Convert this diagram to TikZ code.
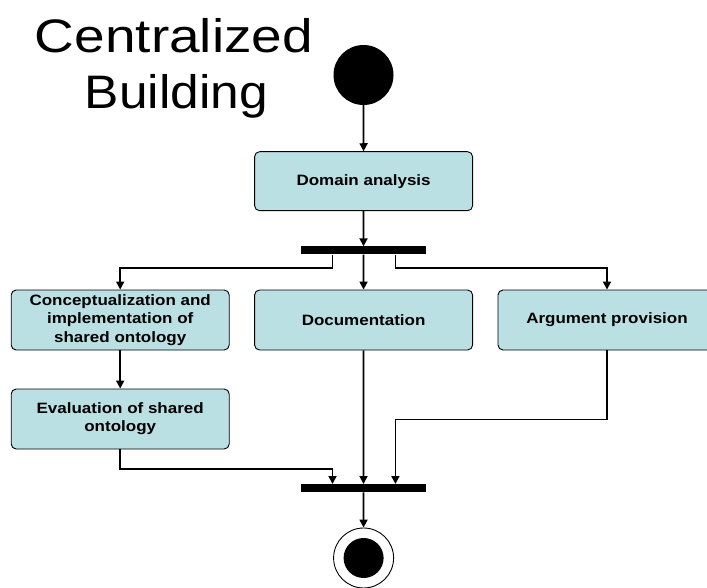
\documentclass[tikz,border=0pt]{standalone}
\usepackage{fontspec}
\setmainfont{Liberation Sans}
\usetikzlibrary{arrows.meta,calc}
\definecolor{boxfill}{RGB}{187,224,227}
\newcommand{\wide}[1]{\scalebox{1.133}[1]{#1}}
\begin{document}
\begin{tikzpicture}[x=1pt,y=-1pt,
  activity/.style={draw=black,line width=0.9pt,fill=boxfill,rounded corners=5pt,
    minimum width=218pt,minimum height=59pt,inner sep=0pt,
    font=\fontsize{15}{18.5}\selectfont\bfseries,align=center},
  bar/.style={fill=black,draw=none,minimum width=125pt,minimum height=8pt,inner sep=0pt},
  arr/.style={line width=1.8pt,-{Triangle[length=8pt,width=8pt]}},
]
\useasboundingbox (0,0) rectangle (707,588);
\begin{scope}
\clip (0,0) rectangle (707,588);
% title
\node[anchor=base,inner sep=0pt,font=\fontsize{47}{55.6}\selectfont] (t1) at (174,52.7) {\scalebox{1.17}[1]{Centralized}};
\node[anchor=base,inner sep=0pt,font=\fontsize{47}{55.6}\selectfont] (t2) at (176.5,108.3) {\scalebox{1.095}[1]{Building}};
% start and end
\node[circle,fill=black,minimum size=60pt,inner sep=0pt] (start) at (363.5,75) {};
\node[circle,draw=black,line width=0.9pt,fill=white,minimum size=60pt,inner sep=0pt] (end) at (363.6,558) {};
\node[circle,fill=black,minimum size=40pt,inner sep=0pt] (endin) at (end.center) {};
% activities
\node[activity] (dom) at (363.6,181.2) {\wide{Domain analysis}};
\node[activity,minimum height=60pt] (con) at (120.2,320) {\wide{\begin{tabular}{@{}c@{}}Conceptualization and\\implementation of\\shared ontology\end{tabular}}};
\node[activity,minimum height=60pt] (doc) at (363.6,320) {\wide{Documentation}};
\node[activity,minimum height=60pt] (arg) at (607,320) {\wide{Argument provision}};
\node[activity,minimum height=60pt] (eva) at (120.2,419) {\wide{\begin{tabular}{@{}c@{}}Evaluation of shared\\ontology\end{tabular}}};
% bars
\node[bar] (fork) at (363.5,250.5) {};
\node[bar] (join) at (363.5,488.2) {};
% connectors
\draw[arr] (start) -- (dom);
\draw[arr] (dom) -- (fork);
\draw[arr] ($(fork.south)+(-31,0)$) -- ++(0,13.7) -| (con.north);
\draw[arr] (fork) -- (doc);
\draw[arr] ($(fork.south)+(31.9,0)$) -- ++(0,13.7) -| (arg.north);
\draw[arr] (con) -- (eva);
\draw[arr] (eva.south) -- ++(0,19.3) -| ($(join.north)+(-31,0)$);
\draw[arr] (doc) -- (join);
\draw[arr] (arg.south) -- ++(0,69) -| ($(join.north)+(31.9,0)$);
\draw[arr] (join) -- (end);
\end{scope}
\end{tikzpicture}
\end{document}
